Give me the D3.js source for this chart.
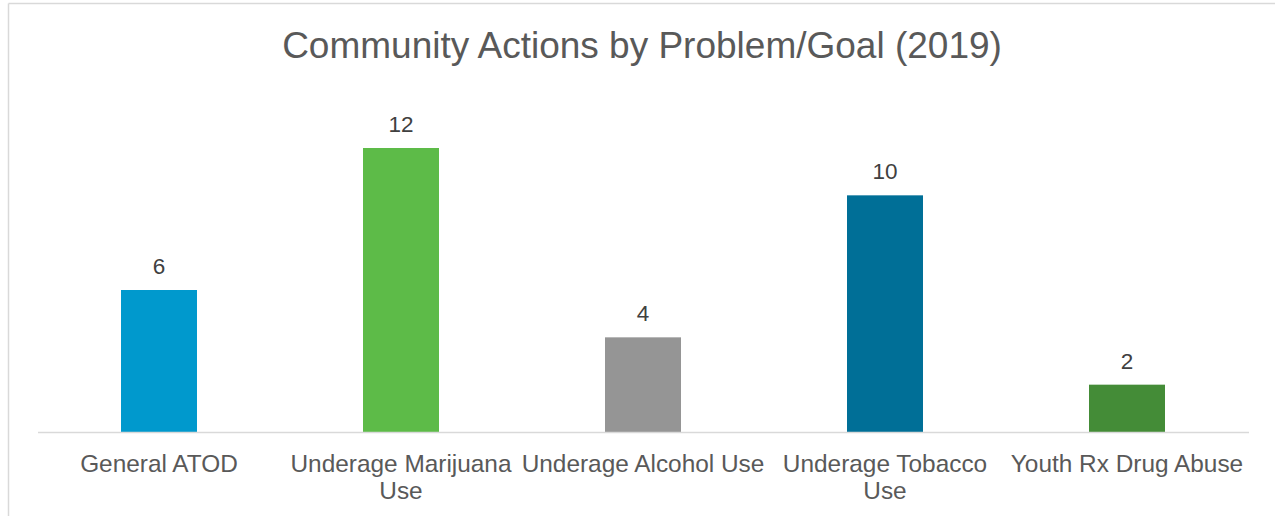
<!DOCTYPE html>
<html>
<head>
<meta charset="utf-8">
<script src="https://cdn.jsdelivr.net/npm/d3@7"></script>
<style>
  html, body { margin: 0; padding: 0; background: #fff; }
  svg { display: block; font-family: "Liberation Sans", Arial, sans-serif; }
</style>
</head>
<body>
<svg id="chart" width="1275" height="516"></svg>
<script>
// Chart data
const title = "Community Actions by Problem/Goal (2019)";
const categories = ["General ATOD", "Underage Marijuana Use", "Underage Alcohol Use", "Underage Tobacco Use", "Youth Rx Drug Abuse"];
const values = [6, 12, 4, 10, 2];
const barColors = ["#0099cd", "#5dbb48", "#959595", "#006f97", "#448c37"];

const W = 1275, H = 516;
const svg = d3.select("#chart");

// Outer chart frame (top and left edges visible)
svg.append("line").attr("x1", 8.5).attr("x2", W).attr("y1", 3.5).attr("y2", 3.5)
  .attr("stroke", "#d9d9d9").attr("stroke-width", 1.5);
svg.append("line").attr("x1", 8.5).attr("x2", 8.5).attr("y1", 3.5).attr("y2", H)
  .attr("stroke", "#d9d9d9").attr("stroke-width", 1.5);

const plot = { left: 38, right: 1248, top: 148, bottom: 432 };

const x = d3.scaleBand()
  .domain(categories)
  .range([plot.left, plot.right])
  .paddingInner(0.686)
  .paddingOuter(0.343);

const y = d3.scaleLinear()
  .domain([0, 12])
  .range([plot.bottom, plot.top]);

// Title
svg.append("text")
  .attr("x", 642).attr("y", 58)
  .attr("text-anchor", "middle")
  .attr("font-size", 37)
  .attr("fill", "#595959")
  .text(title);

// Bars
svg.append("g").selectAll("rect")
  .data(values)
  .join("rect")
  .attr("x", (d, i) => x(categories[i]))
  .attr("y", d => y(d))
  .attr("width", x.bandwidth())
  .attr("height", d => y(0) - y(d))
  .attr("fill", (d, i) => barColors[i]);

// Value labels
svg.append("g").selectAll("text")
  .data(values)
  .join("text")
  .attr("x", (d, i) => x(categories[i]) + x.bandwidth() / 2)
  .attr("y", d => y(d) - 16)
  .attr("text-anchor", "middle")
  .attr("font-size", 22.5)
  .attr("fill", "#404040")
  .text(d => d);

// Category axis
const axis = d3.axisBottom(x).tickSize(0).tickPadding(0);
const gAxis = svg.append("g")
  .attr("transform", `translate(0,${plot.bottom})`)
  .call(axis);
gAxis.select(".domain").attr("stroke", "#d9d9d9").attr("stroke-width", 1.5)
  .attr("d", `M${plot.left},0.5H${plot.right + 1}`);

// Wrap each tick label to the available label width
const maxWidth = 250;
gAxis.selectAll(".tick text")
  .attr("font-size", 24.4)
  .attr("font-family", "Liberation Sans, Arial, sans-serif")
  .attr("fill", "#595959")
  .attr("dy", null)
  .attr("y", 0)
  .each(function(label) {
    const t = d3.select(this);
    t.text(null);
    const words = label.split(" ");
    const lines = [];
    let cur = [];
    const probe = t.append("tspan");
    for (const w of words) {
      const trial = cur.concat(w).join(" ");
      probe.text(trial);
      if (probe.node().getComputedTextLength() > maxWidth && cur.length) {
        lines.push(cur.join(" "));
        cur = [w];
      } else {
        cur.push(w);
      }
    }
    lines.push(cur.join(" "));
    probe.remove();
    lines.forEach((ln, k) => {
      t.append("tspan").attr("x", 0).attr("y", 40 + k * 26.5).text(ln);
    });
  });
</script>
</body>
</html>
